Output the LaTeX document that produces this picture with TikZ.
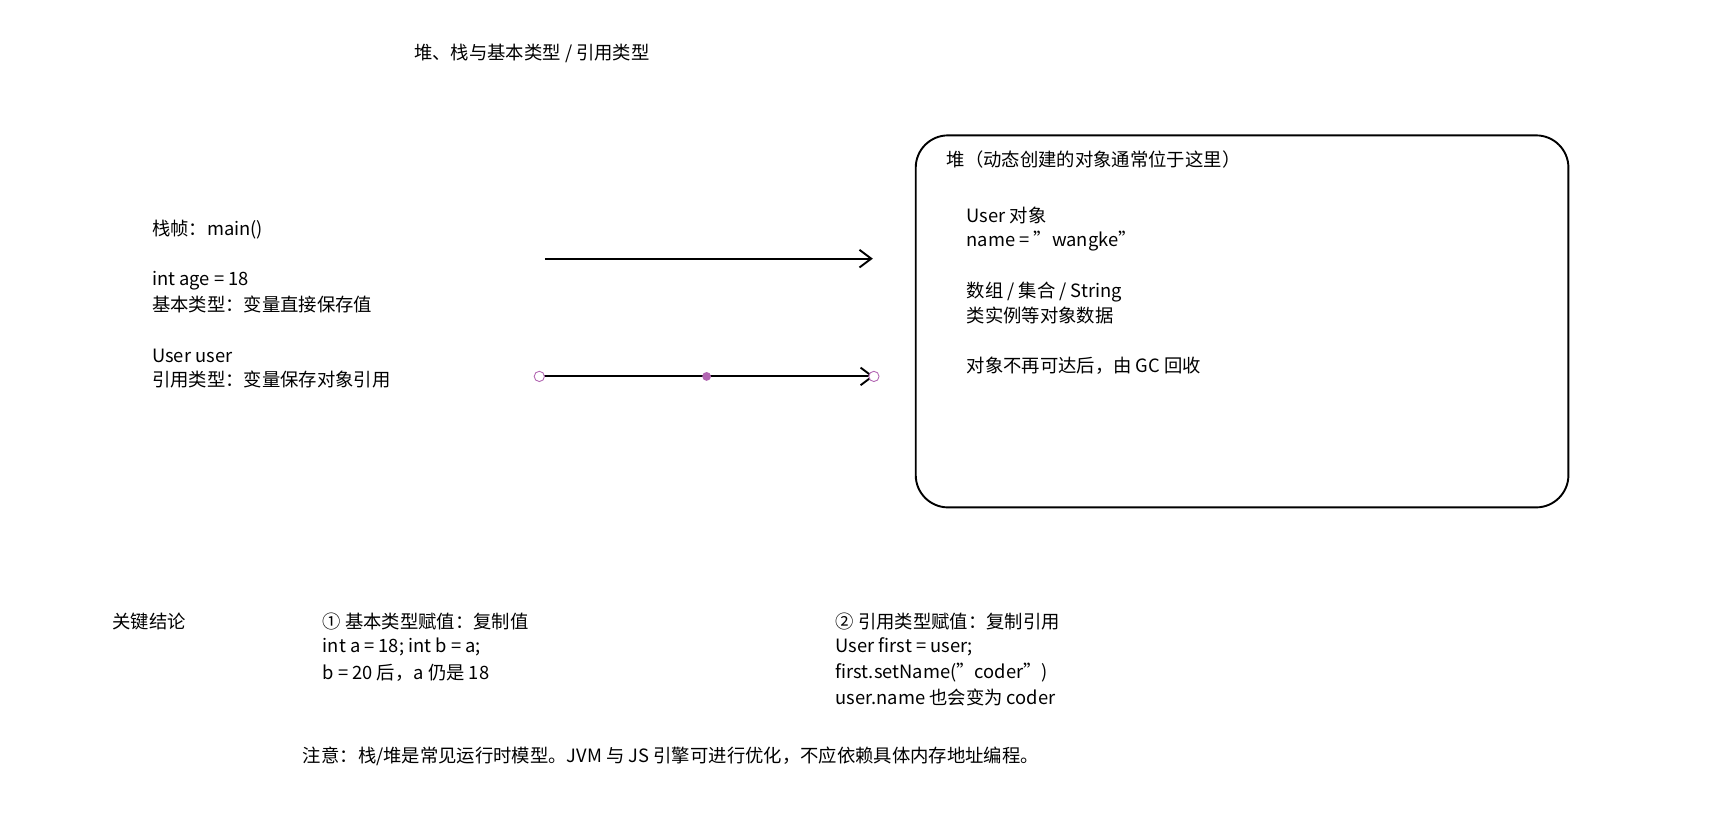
\documentclass[tikz,border=0pt]{standalone}
\usepackage{fontspec}
\usetikzlibrary{arrows.meta}
\setmainfont{Noto Sans CJK SC}
\begin{document}
\begin{tikzpicture}[x=0.75pt,y=-0.75pt,
  t/.style={anchor=west,inner sep=0pt,font=\fontsize{12.5}{15}\selectfont},
  arr/.style={line width=1.3pt,-{Straight Barb[length=8pt,width=12pt]}},
  handle/.style={circle,draw=violet!60,fill=white,inner sep=0pt,minimum size=7pt,line width=0.6pt}]
\useasboundingbox (0,0) rectangle (1560,738);
\draw[line width=1.3pt,rounded corners=22pt] (832,123) rectangle (1425,461);
\node[t] (title) at (376,49) {堆、栈与基本类型 / 引用类型};
\node[t] (h0) at (860,145) {堆（动态创建的对象通常位于这里）};
\node[t] (h1) at (878,196) {User 对象};
\node[t] (h2) at (878,219) {name = "wangke"};
\node[t] (h3) at (878,265) {数组 / 集合 / String};
\node[t] (h4) at (878,287) {类实例等对象数据};
\node[t] (h5) at (878,332) {对象不再可达后，由 GC 回收};
\node[t] (s0) at (138,209) {栈帧：main()};
\node[t] (s1) at (138,255) {int age = 18};
\node[t] (s2) at (138,277) {基本类型：变量直接保存值};
\node[t] (s3) at (138,323) {User user};
\node[t] (s4) at (138,345) {引用类型：变量保存对象引用};
\coordinate (a1s) at (495,235); \coordinate (a1e) at (793,235);
\coordinate (a2s) at (490,342); \coordinate (a2e) at (794,342); \coordinate (a2m) at (642,342);
\draw[arr] (a1s) -- (a1e);
\draw[arr] (a2s) -- (a2e);
\node[handle] at (a2s) {}; \node[handle] at (a2e) {};
\node[circle,fill=violet!60,inner sep=0pt,minimum size=6pt] at (a2m) {};
\node[t] (k0) at (102,565) {关键结论};
\node[t] (p0) at (293,565) {① 基本类型赋值：复制值};
\node[t] (p1) at (293,588) {int a = 18;  int b = a;};
\node[t] (p2) at (293,611) {b = 20 后，a 仍是 18};
\node[t] (r0) at (759,565) {② 引用类型赋值：复制引用};
\node[t] (r1) at (759,588) {User first = user;};
\node[t] (r2) at (759,611) {first.setName("coder")};
\node[t] (r3) at (759,634) {user.name 也会变为 coder};
\node[t] (note) at (275,687) {注意：栈/堆是常见运行时模型。JVM 与 JS 引擎可进行优化，不应依赖具体内存地址编程。};
\end{tikzpicture}
\end{document}
